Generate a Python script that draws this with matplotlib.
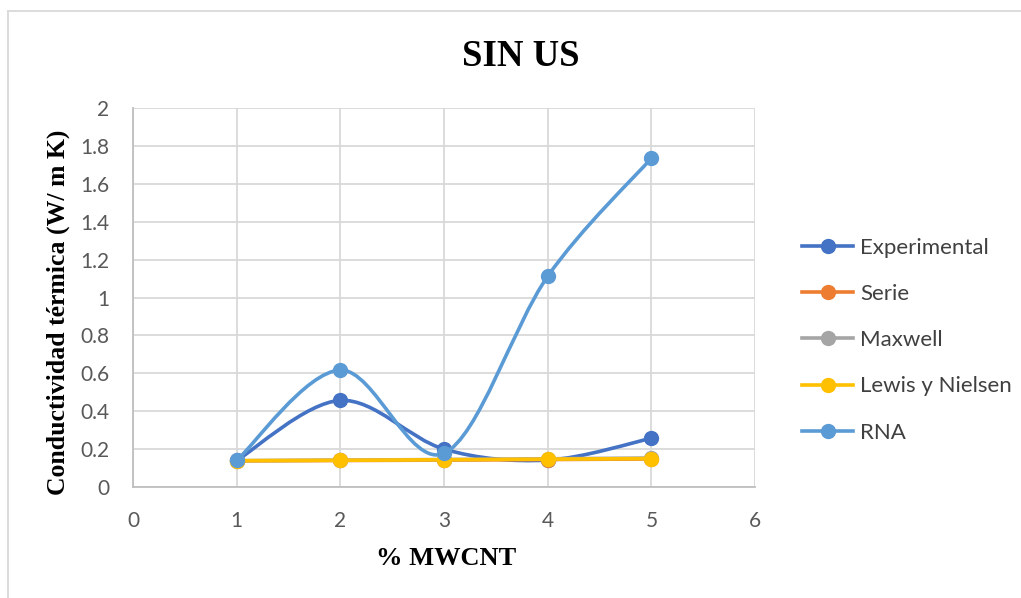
import numpy as np
import matplotlib.pyplot as plt
from matplotlib.path import Path
from matplotlib.patches import PathPatch
from matplotlib.lines import Line2D

# datos
mwcnt = [1, 2, 3, 4, 5]
experimental = [0.14, 0.457, 0.200, 0.142, 0.257]
serie = [0.138, 0.140, 0.142, 0.145, 0.148]
maxwell = [0.139, 0.142, 0.145, 0.149, 0.153]
lewis_nielsen = [0.139, 0.141, 0.144, 0.147, 0.150]
rna = [0.14, 0.617, 0.178, 1.112, 1.735]

series = [
    ("Experimental", experimental, "#4472C4"),
    ("Serie", serie, "#ED7D31"),
    ("Maxwell", maxwell, "#A5A5A5"),
    ("Lewis y Nielsen", lewis_nielsen, "#FFC000"),
    ("RNA", rna, "#5B9BD5"),
]


def smooth_path(x, y):
    # curva suavizada tipo Catmull-Rom con segmentos Bezier cubicos
    p = np.column_stack([x, y]).astype(float)
    n = len(p)
    verts = [p[0]]
    codes = [Path.MOVETO]
    for i in range(n - 1):
        p0 = p[i - 1] if i > 0 else p[i]
        p3 = p[i + 2] if i + 2 < n else p[i + 1]
        c1 = p[i] + (p[i + 1] - p0) / 6
        c2 = p[i + 1] - (p3 - p[i]) / 6
        verts += [c1, c2, p[i + 1]]
        codes += [Path.CURVE4] * 3
    return Path(verts, codes)


fig = plt.figure(figsize=(10.21, 5.98), dpi=100)
ax = fig.add_axes([0.1303, 0.1856, 0.6092, 0.6338])

handles = []
for i, (name, vals, col) in enumerate(series):
    patch = PathPatch(smooth_path(mwcnt, vals), fill=False, edgecolor=col,
                      lw=2.6, capstyle="round", joinstyle="round", zorder=3 + i)
    ax.add_patch(patch)
    ax.plot(mwcnt, vals, linestyle="none", marker="o", markersize=10,
            color=col, zorder=3 + i)
    handles.append(Line2D([], [], color=col, lw=2.6, marker="o", markersize=10))

ax.set_xlim(0, 6)
ax.set_ylim(0, 2)
ax.set_xticks(range(0, 7))
ax.set_yticks(np.arange(0, 2.01, 0.2))
ax.set_yticklabels(["0", "0.2", "0.4", "0.6", "0.8", "1", "1.2", "1.4", "1.6", "1.8", "2"])
ax.grid(True, color="#d9d9d9", lw=1.3)
ax.set_axisbelow(True)
for s in ["top", "right"]:
    ax.spines[s].set_visible(False)
for s in ["left", "bottom"]:
    ax.spines[s].set_color("#bfbfbf")
    ax.spines[s].set_linewidth(1.3)
ax.tick_params(length=0, labelsize=15, labelcolor="#595959")
ax.tick_params(axis="x", pad=17)
ax.tick_params(axis="y", pad=17)
for lab in ax.get_xticklabels() + ax.get_yticklabels():
    lab.set_family("Lato")

fig.text(0.5098, 0.8896, "SIN US", ha="center", va="baseline", fontsize=26.5,
         fontweight="bold", family="Liberation Serif")
fig.text(0.437, 0.0552, "% MWCNT", ha="center", va="baseline", fontsize=19,
         fontweight="bold", family="Liberation Serif")
fig.text(0.057, 0.477, "Conductividad térmica (W/ m K)", ha="center", va="center",
         rotation=90, fontsize=18.5, fontweight="bold", family="Liberation Serif")

fig.legend(handles, [s[0] for s in series], loc="center left",
           bbox_to_anchor=(0.7855, 0.431), frameon=False, borderpad=0,
           borderaxespad=0, handlelength=2.3, handletextpad=0.32,
           labelspacing=1.18, prop={"family": "Lato", "size": 16},
           labelcolor="#404040")

# marco del grafico
fig.add_artist(Line2D([8 / 1021, 8 / 1021], [0, 1 - 11 / 598], color="#d9d9d9",
                      lw=1.3, transform=fig.transFigure))
fig.add_artist(Line2D([8 / 1021, 1], [1 - 11 / 598, 1 - 11 / 598], color="#d9d9d9",
                      lw=1.3, transform=fig.transFigure))

fig.savefig("out.png", dpi=100)
